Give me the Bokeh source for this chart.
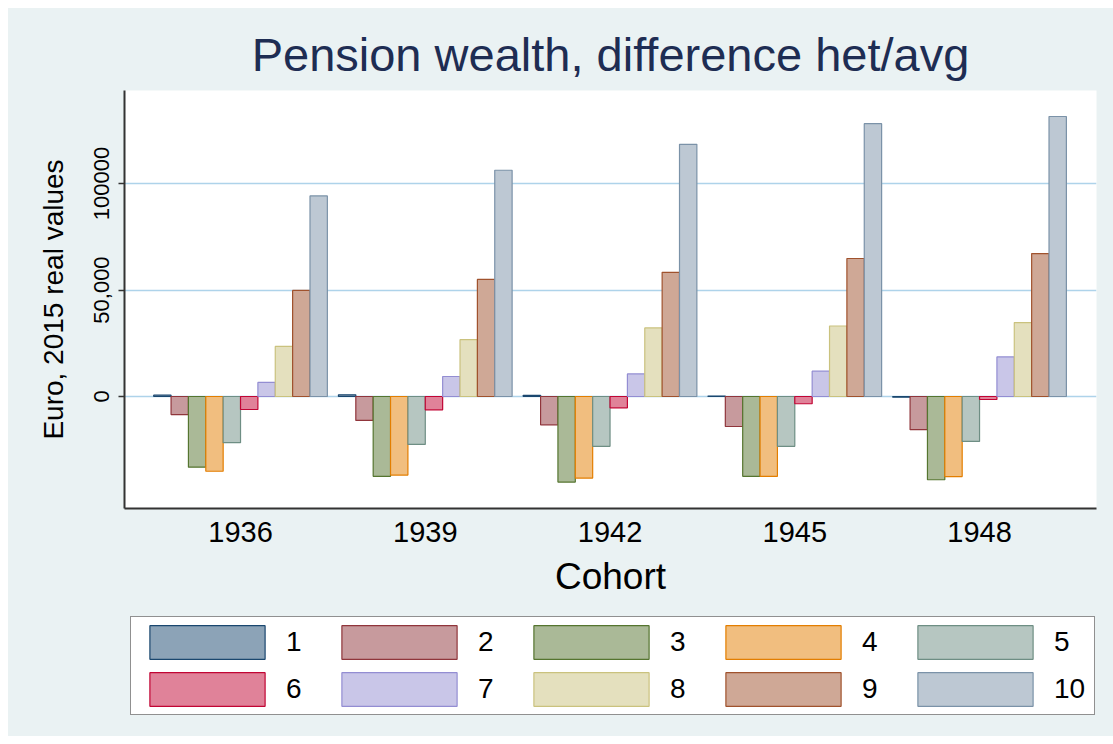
from bokeh.plotting import figure
from bokeh.models import ColumnDataSource, Legend, LegendItem, FixedTicker, Range1d
from bokeh.layouts import column
from bokeh.embed import file_html
from bokeh.resources import INLINE

cohorts = ["1936", "1939", "1942", "1945", "1948"]
deciles = ["1", "2", "3", "4", "5", "6", "7", "8", "9", "10"]

d1 = [600, 800, 500, 200, -300]
d2 = [-8500, -11250, -13300, -14100, -15600]
d3 = [-33200, -37500, -40200, -37500, -39100]
d4 = [-35100, -36900, -38300, -37500, -37600]
d5 = [-21700, -22500, -23400, -23400, -21100]
d6 = [-6100, -6250, -5300, -3400, -1400]
d7 = [6600, 9400, 10600, 11900, 18600]
d8 = [23500, 26700, 32200, 33100, 34700]
d9 = [49800, 55000, 58300, 64800, 67100]
d10 = [94200, 106250, 118400, 128100, 131500]
series = [d1, d2, d3, d4, d5, d6, d7, d8, d9, d10]

line_colors = ["#1A476F", "#90353B", "#55752F", "#E37E00", "#6E8E84",
               "#C10534", "#938DD2", "#CAC27E", "#A0522D", "#7B92A8"]
fill_colors = ["#8CA3B7", "#C79A9D", "#AAB997", "#F1BE7F", "#B6C6C1",
               "#E08299", "#C9C6E8", "#E4E0BE", "#CFA896", "#BDC8D3"]

FONT = "Liberation Sans"
BG = "#EAF2F3"

# ---------------- main chart ----------------
p = figure(width=1105, height=600, output_backend="svg", toolbar_location=None,
           x_range=Range1d(-0.628, 4.633), y_range=Range1d(-52600, 143700),
           min_border_left=116, min_border_right=17, min_border_top=82, min_border_bottom=100)

p.background_fill_color = "white"
p.border_fill_color = BG
p.outline_line_color = None

p.title.text = "Pension wealth, difference het/avg"
p.title.align = "center"
p.title.text_font = FONT
p.title.text_font_size = "47px"
p.title.text_font_style = "normal"
p.title.text_color = "#1E2D53"
p.title.standoff = 19

bw = 0.094
sources = []
for j, vals in enumerate(series):
    xs = [i + (j - 4.5) * bw for i in range(len(cohorts))]
    src = ColumnDataSource(dict(x=xs, top=vals))
    sources.append(src)
    p.vbar(x="x", top="top", bottom=0, width=bw, source=src,
           fill_color=fill_colors[j], line_color=line_colors[j], line_width=1.2)

p.xaxis.ticker = FixedTicker(ticks=list(range(len(cohorts))))
p.xaxis.major_label_overrides = {i: c for i, c in enumerate(cohorts)}
p.xaxis.major_tick_line_color = None
p.xaxis.minor_tick_line_color = None
p.xaxis.axis_line_color = "#333333"
p.xaxis.axis_line_width = 2
p.xaxis.major_label_text_font = FONT
p.xaxis.major_label_text_font_size = "29px"
p.xaxis.major_label_text_color = "black"
p.xaxis.major_label_standoff = 7
p.xaxis.axis_label = "Cohort"
p.xaxis.axis_label_text_font = FONT
p.xaxis.axis_label_text_font_size = "37px"
p.xaxis.axis_label_text_font_style = "normal"
p.xaxis.axis_label_text_color = "black"
p.xaxis.axis_label_standoff = 11

p.yaxis.ticker = FixedTicker(ticks=[0, 50000, 100000])
p.yaxis.major_label_overrides = {0: "0", 50000: "50,000", 100000: "100000"}
p.yaxis.major_label_orientation = "vertical"
p.yaxis.minor_tick_line_color = None
p.yaxis.major_tick_in = 0
p.yaxis.major_tick_out = 6
p.yaxis.major_tick_line_color = "#333333"
p.yaxis.major_tick_line_width = 1.5
p.yaxis.axis_line_color = "#333333"
p.yaxis.axis_line_width = 2
p.yaxis.major_label_text_font = FONT
p.yaxis.major_label_text_font_size = "22px"
p.yaxis.major_label_text_color = "black"
p.yaxis.major_label_standoff = 9
p.yaxis.axis_label = "Euro, 2015 real values"
p.yaxis.axis_label_text_font = FONT
p.yaxis.axis_label_text_font_size = "28px"
p.yaxis.axis_label_text_font_style = "normal"
p.yaxis.axis_label_text_color = "black"
p.yaxis.axis_label_standoff = 23

p.xgrid.grid_line_color = None
p.ygrid.grid_line_color = "#AED3EA"
p.ygrid.grid_line_width = 1.5

# ---------------- legend strip (same data, bars kept out of its view) ----------------
q = figure(width=1105, height=128, output_backend="svg", toolbar_location=None,
           x_range=Range1d(-0.628, 4.633), y_range=Range1d(300000, 400000),
           min_border_left=0, min_border_right=0, min_border_top=0, min_border_bottom=0)
q.axis.visible = False
q.grid.visible = False
q.background_fill_color = BG
q.border_fill_color = BG
q.outline_line_color = None

items = []
for j, src in enumerate(sources):
    r = q.vbar(x="x", top="top", bottom=0, width=bw, source=src,
               fill_color=fill_colors[j], line_color=line_colors[j], line_width=1.2)
    items.append(LegendItem(label=deciles[j], renderers=[r]))

legend = Legend(items=items, ncols=5, orientation="horizontal", location=(6, 21),
                glyph_width=144, glyph_height=42, label_standoff=7, label_width=36,
                spacing=5, padding=4, margin=0,
                label_text_font=FONT, label_text_font_size="28px", label_text_color="black",
                border_line_color="#222222", border_line_width=1.5,
                background_fill_color="white", background_fill_alpha=1.0)
q.add_layout(legend, "center")

layout = column(p, q, spacing=0)
layout.margin = (8, 0, 0, 8)
layout.styles = {"background-color": BG}
open("out.html", "w").write(file_html(layout, INLINE))
